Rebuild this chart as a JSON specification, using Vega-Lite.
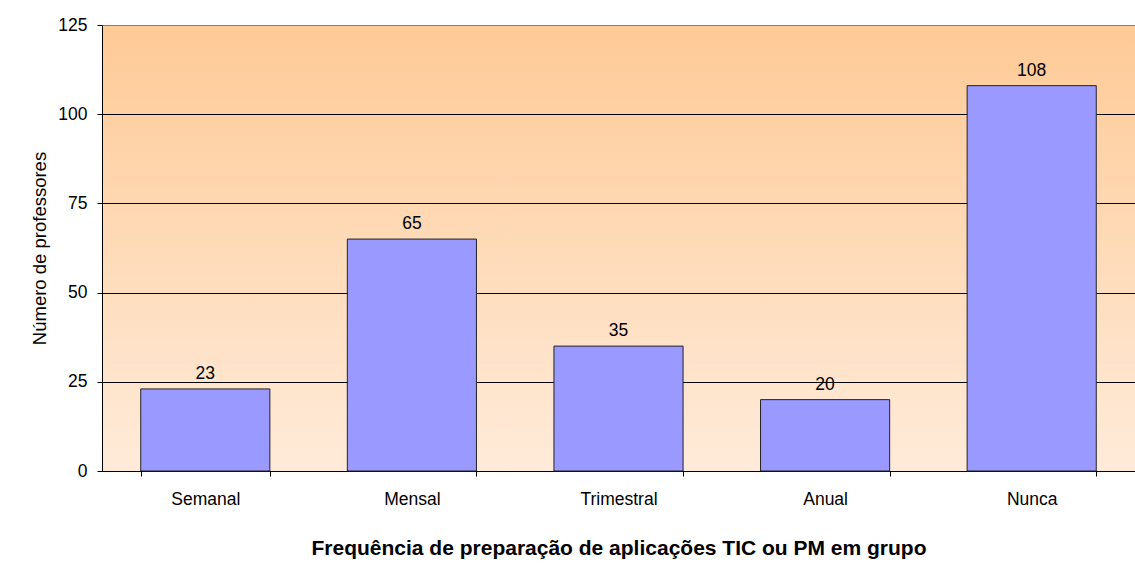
{
  "$schema": "https://vega.github.io/schema/vega-lite/v6.json",
  "autosize": "none",
  "padding": {"left": 102, "top": 25, "right": 0, "bottom": 95},
  "width": 1033,
  "height": 446,
  "background": "white",
  "config": {
    "font": "Liberation Sans",
    "view": {
      "stroke": "#808080",
      "strokeWidth": 1,
      "fill": {
        "gradient": "linear",
        "x1": 0, "y1": 0, "x2": 0, "y2": 1,
        "stops": [
          {"offset": 0, "color": "#FECA96"},
          {"offset": 1, "color": "#FFEBDA"}
        ]
      }
    },
    "axis": {
      "labelFont": "Liberation Sans",
      "titleFont": "Liberation Sans",
      "labelColor": "black",
      "titleColor": "black",
      "domainColor": "black",
      "tickColor": "black",
      "tickSize": 5
    }
  },
  "data": {
    "values": [
      {"freq": "Semanal", "n": 23},
      {"freq": "Mensal", "n": 65},
      {"freq": "Trimestral", "n": 35},
      {"freq": "Anual", "n": 20},
      {"freq": "Nunca", "n": 108}
    ]
  },
  "encoding": {
    "x": {
      "field": "freq",
      "type": "nominal",
      "sort": null,
      "scale": {"paddingInner": 0.375, "paddingOuter": 0.1875},
      "axis": {
        "title": "Frequência de preparação de aplicações TIC ou PM em grupo",
        "titleFontSize": 21,
        "titleFontWeight": "bold",
        "titleBaseline": "alphabetic",
        "titleY": 83,
        "labelAngle": 0,
        "labelFontSize": 17.5,
        "labelBaseline": "alphabetic",
        "labelPadding": 28,
        "tickBand": "extent",
        "grid": false
      }
    },
    "y": {
      "field": "n",
      "type": "quantitative",
      "scale": {"domain": [0, 125], "nice": false},
      "axis": {
        "title": "Número de professores",
        "titleFontSize": 18.5,
        "titleFontWeight": "normal",
        "titleAngle": 270,
        "titleAlign": "center",
        "titleBaseline": "middle",
        "titleX": -63,
        "titleY": 223,
        "values": [0, 25, 50, 75, 100, 125],
        "labelFontSize": 17.5,
        "labelPadding": 10,
        "grid": true,
        "gridColor": {"condition": {"test": "datum.value == 125", "value": "#808080"}, "value": "black"},
        "gridWidth": 1
      }
    }
  },
  "layer": [
    {
      "mark": {"type": "bar", "color": "#9999FF", "stroke": "#222222", "strokeWidth": 1}
    },
    {
      "mark": {"type": "text", "baseline": "alphabetic", "dy": -10, "fontSize": 17.5, "color": "black", "font": "Liberation Sans"},
      "encoding": {"text": {"field": "n", "type": "quantitative"}}
    }
  ]
}
